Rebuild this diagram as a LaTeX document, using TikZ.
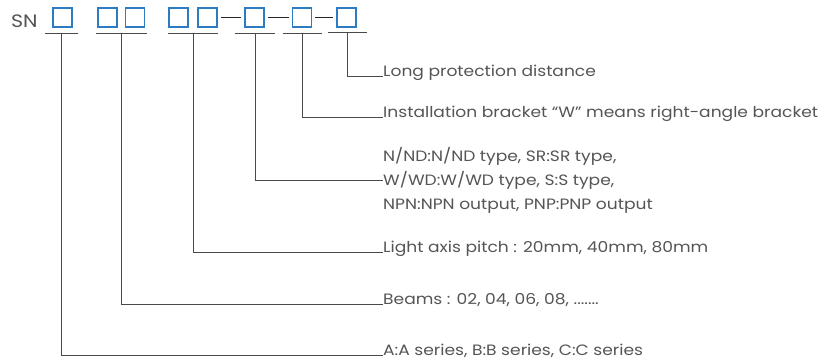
\documentclass[tikz,border=0pt]{standalone}
\usepackage{fontspec}
\setmainfont{Poppins}[FakeStretch=1.14]
\usepackage{xcolor}
\usetikzlibrary{positioning, calc}

\definecolor{slotblue}{HTML}{2B7CC2}
\definecolor{txtgray}{HTML}{555555}
\definecolor{leadgray}{HTML}{4A4A4A}

\tikzset{
  slot/.style={draw=slotblue, line width=1.6pt, minimum size=19pt, inner sep=0pt},
  lead/.style={draw=leadgray, line width=1pt},
  dashline/.style={draw=black!85, line width=1.6pt, shorten <=3pt, shorten >=3pt},
  note/.style={text=txtgray, font=\fontsize{15}{24}\selectfont, inner sep=0pt, anchor=base west}
}

\begin{document}
\begin{tikzpicture}[x=1pt, y=-1pt]
				\useasboundingbox (0,0) rectangle (836,360);
				
				% Code
				\node[note, font=\fontsize{18}{20}\selectfont] (sn) at (11,27) {SN};
				\node[slot] (b1) at (62.5,17.5) {};
				\node[slot] (b2) at (107.5,17.5) {};
				\node[slot] (b3) at (135,17.5) {};
				\node[slot] (b4) at (178.5,17.5) {};
				\node[slot] (b5) at (207.5,17.5) {};
				\node[slot] (b6) at (254.5,17.5) {};
				\node[slot] (b7) at (302,17.5) {};
				\node[slot] (b8) at (346.5,17.5) {};
				\draw[dashline] (b5.east) -- (b6.west);
				\draw[dashline] (b6.east) -- (b7.west);
				\draw[dashline] (b7.east) -- (b8.west);
				
				% Underlines
				\draw[lead] (45,33) -- (78,33);
				\draw[lead] (96,33) -- (147,33);
				\draw[lead] (168,33) -- (218,33);
				\draw[lead] (235,33) -- (275,33);
				\draw[lead] (283,33) -- (322,33);
				\draw[lead] (328,32) -- (367,32);
				\coordinate (u1) at (61,33);
				\coordinate (u2) at (121,33);
				\coordinate (u3) at (193,33);
				\coordinate (u4) at (255,33);
				\coordinate (u5) at (302,33);
				\coordinate (u6) at (347,32);
				
				% Notes
				\node[note] (t6) at (383,76) {Long protection distance};
				\node[note] (t5) at (383,117) {Installation bracket “W” means right-angle bracket};
				\node[note, anchor=west, align=left] (t4) at (383,180) {N/ND:N/ND type, SR:SR type,\\W/WD:W/WD type, S:S type,\\NPN:NPN output, PNP:PNP output};
				\node[note] (t3) at (383,252) {Light axis pitch : 20mm, 40mm, 80mm};
				\node[note] (t2) at (383,304) {Beams : 02, 04, 06, 08, .......};
				\node[note] (t1) at (383,355) {A:A series, B:B series, C:C series};
				
				% Leaders
				\draw[lead] (u6) |- (t6.base west);
				\draw[lead] (u5) |- (t5.base west);
				\draw[lead] (u4) |- (t4.west);
				\draw[lead] (u3) |- (t3.base west);
				\draw[lead] (u2) |- (t2.base west);
				\draw[lead] (u1) |- (t1.base west);
			\end{tikzpicture}
\end{document}
